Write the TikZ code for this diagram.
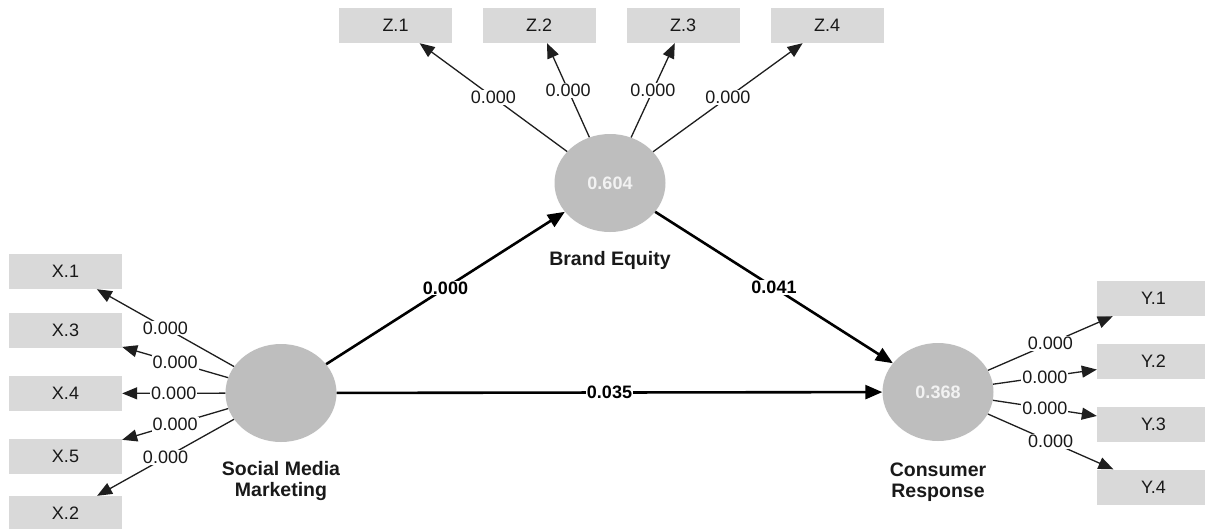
\documentclass[tikz,border=0pt]{standalone}
\usepackage{fontspec}
\setmainfont{Liberation Sans}
\usetikzlibrary{shapes.geometric,arrows.meta}
\definecolor{boxgray}{RGB}{217,217,217}
\definecolor{circgray}{RGB}{190,190,190}
\definecolor{linegray}{RGB}{30,30,30}
\definecolor{txtgray}{RGB}{25,25,25}
\definecolor{valwhite}{RGB}{242,242,242}
\begin{document}
\begin{tikzpicture}[x=1pt,y=-1pt,
  ind/.style={rectangle, fill=boxgray, minimum width=113pt, minimum height=35pt, inner sep=0pt, font=\fontsize{18}{20}\selectfont, text=txtgray},
  lv/.style={ellipse, fill=circgray, minimum width=111pt, minimum height=98pt, inner sep=0pt, font=\bfseries\fontsize{18}{20}\selectfont, text=valwhite},
  lvname/.style={font=\bfseries\fontsize{19.5}{21}\selectfont, align=center, text=txtgray},
  load/.style={-{Triangle[length=15pt,width=12pt]}, line width=1.3pt, draw=linegray},
  structural/.style={-{Triangle[length=17pt,width=14pt]}, line width=2.6pt, draw=black},
  lbl/.style={fill=white, inner sep=1pt, font=\fontsize{18}{20}\selectfont, text=txtgray},
  plbl/.style={fill=white, inner sep=1pt, font=\bfseries\fontsize{18}{20}\selectfont, text=black},
]
\path[use as bounding box, fill=white] (0,0) rectangle (1205,528);

% latent variables
\node[lv] (smm) at (281,393) {};
\node[lv] (be) at (610,183) {0.604};
\node[lv] (cr) at (938,392) {0.368};

\node[lvname] (smmname) at (281,481) {Social Media\\Marketing};
\node[lvname] (bename) at (610,260) {Brand Equity};
\node[lvname] (crname) at (938,482) {Consumer\\Response};

% indicators
\node[ind] (x1) at (65.5,271.5) {X.1};
\node[ind] (x3) at (65.5,330.5) {X.3};
\node[ind] (x4) at (65.5,393.5) {X.4};
\node[ind] (x5) at (65.5,456.5) {X.5};
\node[ind] (x2) at (65.5,513.5) {X.2};

\node[ind] (y1) at (1153.5,298.5) {Y.1};
\node[ind] (y2) at (1153.5,361.5) {Y.2};
\node[ind] (y3) at (1153.5,424.5) {Y.3};
\node[ind] (y4) at (1153.5,487) {Y.4};

\node[ind] (z1) at (395.5,25.5) {Z.1};
\node[ind] (z2) at (539,25.5) {Z.2};
\node[ind] (z3) at (683,25.5) {Z.3};
\node[ind] (z4) at (827,25.5) {Z.4};

% loadings
\foreach \t in {x1,x3,x4,x5,x2}
  \draw[load] (smm) -- node[lbl] {0.000} (\t);
\foreach \t in {y1,y2,y3,y4}
  \draw[load] (cr) -- node[lbl] {0.000} (\t);
\foreach \t in {z1,z2,z3,z4}
  \draw[load] (be) -- node[lbl] {0.000} (\t);

% structural paths
\draw[structural] (smm) -- node[plbl] {0.000} (be);
\draw[structural] (be) -- node[plbl] {0.041} (cr);
\draw[structural] (smm) -- node[plbl] {0.035} (cr);
\end{tikzpicture}
\end{document}
